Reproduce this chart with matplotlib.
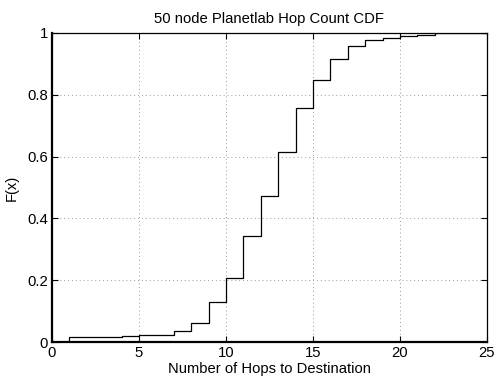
import numpy as np
import matplotlib
matplotlib.use("Agg")
import matplotlib.pyplot as plt

hops = [1, 2, 3, 4, 5, 6, 7, 8, 9, 10, 11, 12, 13, 14, 15, 16, 17, 18, 19, 20, 21, 22]
cdf = [0.016, 0.016, 0.016, 0.018, 0.022, 0.024, 0.035, 0.060, 0.130, 0.206, 0.343,
       0.474, 0.616, 0.758, 0.848, 0.916, 0.957, 0.976, 0.984, 0.990, 0.994, 1.0]
xticks = [0, 5, 10, 15, 20, 25]
yticks = [0, 0.2, 0.4, 0.6, 0.8, 1]
yticklabels = ["0", "0.2", "0.4", "0.6", "0.8", "1"]

plt.rcParams['font.family'] = ['Liberation Sans', 'DejaVu Sans']

fig = plt.figure(figsize=(4.96, 3.77), dpi=100)
ax = fig.add_axes([0.1048, 0.0928, 0.877, 0.8197])

xs = [hops[0]] + hops + [25]
ys = [0] + cdf + [cdf[-1]]
ax.step(xs, ys, where='post', color='black', linewidth=0.9)

ax.set_xlim(0, 25)
ax.set_ylim(0, 1)
ax.set_xticks(xticks)
ax.set_yticks(yticks)
ax.set_yticklabels(yticklabels)
ax.tick_params(direction='in', top=True, right=True, labelsize=10.7, length=4, width=0.8, pad=3)
ax.grid(True, linestyle=(0, (1, 3)), color='#999999', linewidth=0.7)
for s in ax.spines.values():
    s.set_linewidth(0.9)
ax.spines['left'].set_linewidth(1.6)
ax.spines['bottom'].set_linewidth(1.6)

ax.set_title("50 node Planetlab Hop Count CDF", fontsize=10.7, pad=7)
ax.set_xlabel("Number of Hops to Destination", fontsize=10.6, labelpad=1.5)
ax.set_ylabel("F(x)", fontsize=10.6, labelpad=6)

fig.savefig("out.png", dpi=100)
